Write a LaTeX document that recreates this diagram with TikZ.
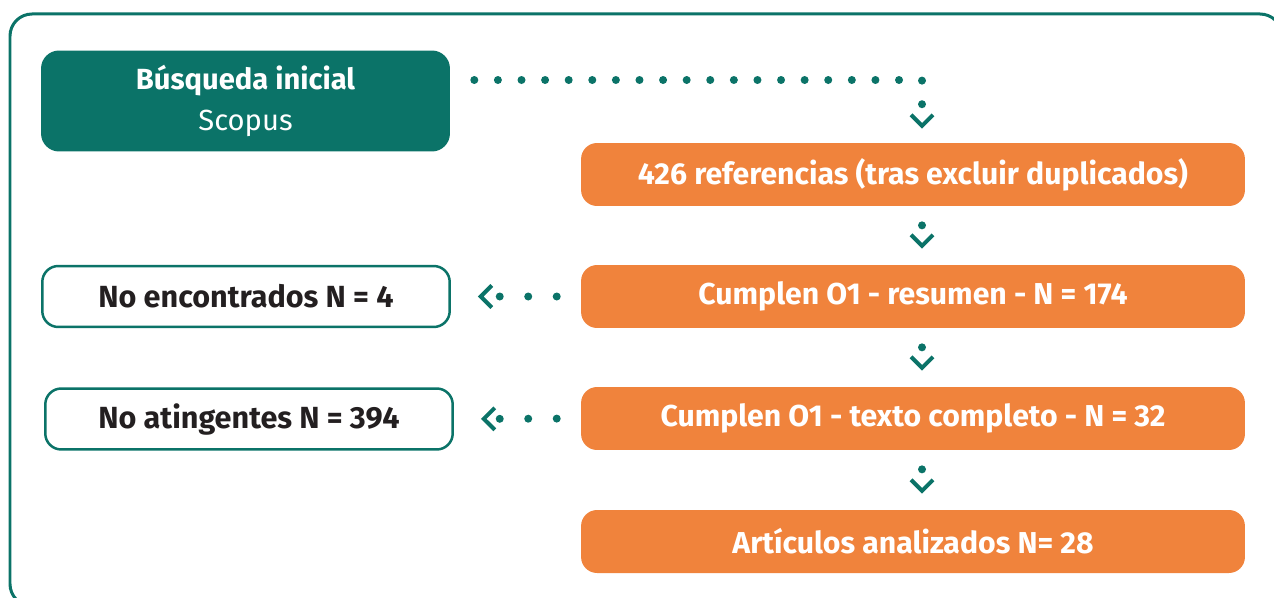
\documentclass[tikz,border=0pt]{standalone}
\usepackage{fontspec}
\setmainfont{Fira Sans}
\usetikzlibrary{arrows.meta}

\definecolor{teal}{HTML}{0B7368}
\definecolor{orange}{HTML}{F0833C}
\definecolor{ink}{HTML}{231F20}

\tikzset{
  stage/.style={fill=orange, text=white, rounded corners=0.32cm,
    minimum width=13.28cm, minimum height=1.26cm,
    font=\fontsize{17.2}{20}\selectfont\bfseries},
  excluded/.style={draw=teal, line width=0.05cm, fill=white, text=ink,
    rounded corners=0.32cm, minimum width=8.15cm, minimum height=1.22cm,
    font=\fontsize{17.4}{20}\selectfont\bfseries},
  dotlink/.style={draw=teal, line width=0.16cm, line cap=round,
    dash pattern=on 0pt off #1,
    -{Straight Barb[length=0.22cm,width=0.44cm,line width=0.08cm,sharp]}},
}

\begin{document}
\begin{tikzpicture}[x=0.02cm, y=-0.02cm]
  \useasboundingbox (0,0) rectangle (1274,598);
  \clip (0,0) rectangle (1274,598);
  % outer frame
  \draw[teal, line width=0.06cm, rounded corners=0.44cm] (10,14) rectangle (1282,606);

  % start box
  \node[fill=teal, text=white, rounded corners=0.36cm, minimum width=8.18cm,
    minimum height=2.02cm, align=center,
    font=\fontsize{16.6}{23.5}\selectfont] (search) at (245.5,101)
    {\textbf{Búsqueda inicial}\\Scopus};

  % main column
  \node[stage] (ref) at (913,174.5) {426 referencias (tras excluir duplicados)};
  \node[stage] (res) at (913,296.5) {Cumplen O1 - resumen - N = 174};
  \node[stage] (full) at (913,418.5) {Cumplen O1 - texto completo - N = 32};
  \node[stage] (final) at (913,541.5) {Artículos analizados N= 28};

  % excluded records
  \node[excluded] (notfound) at (246,296.5) {No encontrados N = 4};
  \node[excluded] (notrel) at (249,419) {No atingentes N = 394};

  \coordinate (turn) at (922,80);

  % connectors
  \draw[dotlink=0.472cm, shorten <=0.48cm, shorten >=0.28cm]
    ([yshift=0.42cm]search.east) -| (ref.north -| turn);
  \draw[dotlink=2cm, shorten <=0.38cm, shorten >=0.32cm] (ref.south -| turn) -- (res.north -| turn);
  \draw[dotlink=2cm, shorten <=0.38cm, shorten >=0.32cm] (res.south -| turn) -- (full.north -| turn);
  \draw[dotlink=2cm, shorten <=0.38cm, shorten >=0.32cm] (full.south -| turn) -- (final.north -| turn);
  \draw[dotlink=0.57cm, shorten <=0.48cm, shorten >=0.54cm] (res.west) -- (notfound.east);
  \draw[dotlink=0.57cm, shorten <=0.48cm, shorten >=0.54cm] (full.west) -- (notrel.east);
\end{tikzpicture}
\end{document}
